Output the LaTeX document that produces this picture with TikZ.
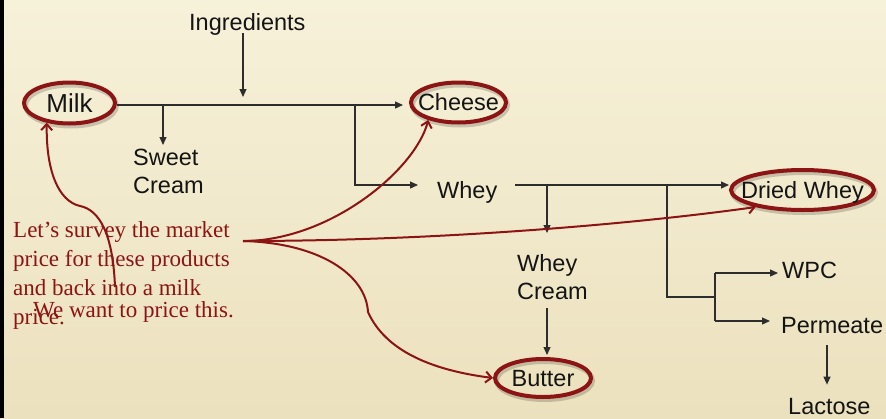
\documentclass[tikz,border=0pt]{standalone}
\usepackage{fontspec}
\setmainfont{Liberation Sans}
\newfontfamily\notefont{Liberation Serif}
\usetikzlibrary{arrows.meta,shapes.geometric,calc}
\definecolor{bgtop}{RGB}{246,241,217}
\definecolor{bgbot}{RGB}{236,225,190}
\definecolor{maroon}{RGB}{140,20,20}
\definecolor{ink}{RGB}{20,20,20}
\definecolor{wirec}{RGB}{45,45,45}
\begin{document}
\begin{tikzpicture}[x=1pt,y=-1pt,
  lbl/.style={font=\fontsize{23.5}{28}\selectfont, text=ink, inner sep=0pt, align=left},
  oval/.style={ellipse, draw=maroon, line width=4pt, text=ink, inner ysep=0pt,
    font=\fontsize{23.5}{28}\selectfont, text height=16.8pt, text depth=0pt,
    preaction={draw=black, draw opacity=0.18, line width=5pt,
      transform canvas={shift={(1.5pt,-2.5pt)}}}},
  wire/.style={draw=wirec, line width=1.2pt},
  arr/.style={wire, -{Triangle[length=8pt,width=7pt]}},
  hint/.style={draw=maroon, line width=2pt, -{Straight Barb[length=6pt,width=11pt]}},
  note/.style={font=\notefont\fontsize{23}{29}\selectfont, text=maroon, inner sep=0pt, align=left}]
\useasboundingbox (0,0) rectangle (886,418);
\fill[top color=bgtop, bottom color=bgbot] (0,0) rectangle (886,418);
\fill[black] (0,0) rectangle (4,418);

% nodes
\node[lbl, anchor=base west] (ing) at (189,30) {Ingredients};
\node[oval, font=\fontsize{26}{30}\selectfont, text height=18.6pt, minimum width=91pt, minimum height=41pt, inner xsep=0pt] (milk) at (69.5,103) {Milk};
\node[oval, minimum width=95pt, minimum height=40pt, inner xsep=-7pt] (cheese) at (458.5,102.5) {Cheese};
\node[oval, minimum width=143pt, minimum height=40pt, inner xsep=-11pt] (dwhey) at (802.5,190) {Dried Whey};
\node[oval, minimum width=96pt, minimum height=38pt, inner xsep=0pt] (butter) at (543,378) {Butter};
\node[lbl, anchor=north west] (sweet) at (133,149) {Sweet\\Cream};
\node[lbl, anchor=base west] (whey) at (437,198.5) {Whey};
\node[lbl, anchor=north west] (wcream) at (517,254) {Whey\\Cream};
\node[lbl, anchor=base west] (wpc) at (782,278) {WPC};
\node[lbl, anchor=base west] (perm) at (781,333) {Permeate};
\node[lbl, anchor=base west] (lact) at (788,414) {Lactose};

\node[note, anchor=north west] (survey) at (13,221.5) {Let’s survey the market\\price for these products\\and back into a milk\\price.};
\node[note, anchor=base west] (want) at (33,317) {We want to price this.};

% junctions
\coordinate (j1) at (243,105);
\coordinate (j2) at (163,105);
\coordinate (j3) at (355,105);
\coordinate (j4) at (355,185);
\coordinate (j5) at (547,185);
\coordinate (j6) at (667,185);
\coordinate (j8) at (715,297);
\coordinate (j9) at (715,273);
\coordinate (j10) at (715,321);
\coordinate (j11) at (827,345);
\coordinate (src) at (243,241);
\coordinate (msrc) at (115,287);

% black flow
\draw[arr, shorten >=6pt] (milk.east |- j1) -- (cheese.west |- j1);
\draw[arr, shorten <=3pt, shorten >=8pt] (j1 |- ing.base) -- (j1);
\draw[arr, shorten >=4pt] (j2) -- (j2 |- sweet.north);
\draw[arr, shorten >=19pt] (j3) -- (j4) -- (j4 -| whey.west);
\draw[arr, shorten <=18pt] (j4 -| whey.east) -- (j4 -| dwhey.west);
\draw[arr, shorten >=21pt] (j5) -- (j5 |- wcream.north);
\draw[wire] (j6) |- (j8);
\draw[wire] (j9) -- (j10);
\draw[arr, shorten >=4pt] (j9) -- (j9 -| wpc.west);
\draw[arr, shorten >=11pt] (j10) -- (j10 -| perm.west);
\draw[arr, shorten <=8pt, shorten >=2pt] (j5 |- wcream.south) -- (j5 |- butter.north);
\draw[arr, shorten >=13pt] (j11) -- (j11 |- lact.north);

% red pointers
\draw[hint] (src) .. controls (330,241) and (415,170) .. (cheese.210);
\draw[hint] (src) .. controls (450,241) and (650,222) .. (dwhey.200);
\draw[hint] (src) .. controls (320,243) and (366,275) .. (368,312) .. controls (385,350) and (430,370) .. (butter.west);
\draw[hint] (msrc) .. controls (113,235) and (100,210) .. (80,206) .. controls (58,201) and (46,170) .. (milk.221);
\end{tikzpicture}
\end{document}
